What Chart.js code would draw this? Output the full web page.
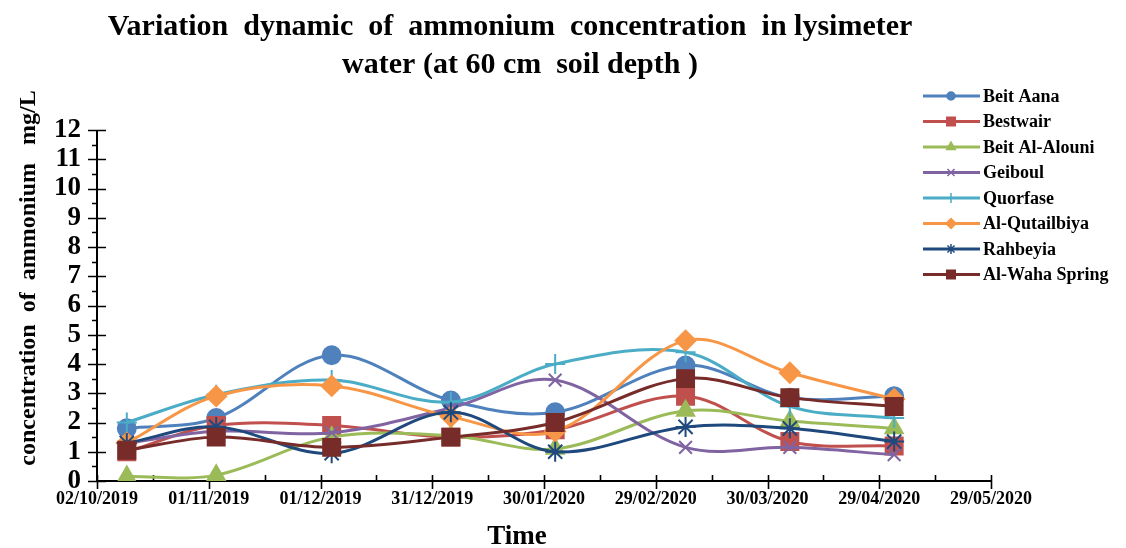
<!DOCTYPE html>
<html>
<head>
<meta charset="utf-8">
<script src="https://cdn.jsdelivr.net/npm/chart.js@4.4.0/dist/chart.umd.min.js"></script>
<style>
  html, body { margin: 0; padding: 0; background: #fff; }
  #wrap { width: 1126px; height: 548px; }
</style>
</head>
<body>
<div id="wrap"><canvas id="c"></canvas></div>
<script>
// ─── Data ─────────────────────────────────────────────────────────────────────
const START_DATE = '2019-10-02';
const sampleDates = ['2019-10-10', '2019-11-03', '2019-12-04', '2020-01-05', '2020-02-02', '2020-03-08', '2020-04-05', '2020-05-03'];
const tickLabels = ['02/10/2019', '01/11/2019', '01/12/2019', '31/12/2019', '30/01/2020', '29/02/2020', '30/03/2020', '29/04/2020', '29/05/2020'];

const seriesNames = ['Beit Aana', 'Bestwair', 'Beit Al-Alouni', 'Geiboul', 'Quorfase', 'Al-Qutailbiya', 'Rahbeyia', 'Al-Waha Spring'];
const beitAana     = [1.8, 2.15, 4.3, 2.75, 2.35, 3.95, 2.85, 2.9];
const bestwair     = [1.0, 1.9, 1.9, 1.5, 1.75, 2.9, 1.35, 1.2];
const beitAlAlouni = [0.15, 0.2, 1.5, 1.55, 1.1, 2.4, 2.05, 1.8];
const geiboul      = [1.3, 1.7, 1.65, 2.5, 3.45, 1.15, 1.15, 0.9];
const quorfase     = [2.0, 2.95, 3.45, 2.7, 4.0, 4.4, 2.55, 2.15];
const alQutailbiya = [1.3, 2.9, 3.25, 2.2, 1.7, 4.8, 3.7, 2.8];
const rahbeyia     = [1.3, 1.85, 0.95, 2.35, 1.0, 1.85, 1.8, 1.35];
const alWahaSpring = [1.05, 1.5, 1.15, 1.5, 2.0, 3.5, 2.85, 2.55];

const allSeries = [beitAana, bestwair, beitAlAlouni, geiboul, quorfase, alQutailbiya, rahbeyia, alWahaSpring];

// ─── Styles ───────────────────────────────────────────────────────────────────
const STYLES = [
  { color: '#4F81BD', point: 'circle',   radius: 9,  legendRadius: 4 },
  { color: '#C0504D', point: 'rect',     radius: 12, legendRadius: 6 },
  { color: '#9BBB59', point: 'triangle', radius: 10, legendRadius: 5 },
  { color: '#8064A2', point: 'crossRot', radius: 9,  legendRadius: 5 },
  { color: '#4BACC6', point: 'cross',    radius: 10, legendRadius: 5 },
  { color: '#F79646', point: 'rectRot',  radius: 10, legendRadius: 5 },
  { color: '#1F497D', point: 'star',     radius: 10, legendRadius: 5 },
  { color: '#772C2A', point: 'rect',     radius: 12, legendRadius: 6 }
];

const SERIF = "'Liberation Serif', 'DejaVu Serif', serif";
const DAY_MS = 86400000;

function dayOffset(d) {
  return (Date.parse(d) - Date.parse(START_DATE)) / DAY_MS;
}

const xDays = sampleDates.map(dayOffset);

const datasets = allSeries.map((vals, i) => ({
  label: seriesNames[i],
  data: vals.map((v, j) => ({ x: xDays[j], y: v })),
  borderColor: STYLES[i].color,
  backgroundColor: STYLES[i].color,
  pointBackgroundColor: STYLES[i].color,
  pointBorderColor: STYLES[i].color,
  pointStyle: STYLES[i].point,
  pointRadius: STYLES[i].radius,
  pointBorderWidth: 2,
  borderWidth: 3,
  tension: 0.35,
  fill: false,
  order: allSeries.length - i // last series on top, like Excel
}));

// ─── Decorations: title, axis lines + ticks, axis titles, legend ──────────────
const decorPlugin = {
  id: 'decor',
  beforeDatasetsDraw(chart) {
    const { ctx, chartArea: a, scales: { x, y } } = chart;
    ctx.save();
    ctx.strokeStyle = '#000';
    ctx.lineWidth = 2;
    ctx.beginPath();
    ctx.moveTo(a.left, a.top);
    ctx.lineTo(a.left, a.bottom);
    ctx.lineTo(a.right, a.bottom);
    ctx.stroke();

    ctx.lineWidth = 1.6;
    ctx.beginPath();
    y.ticks.forEach(t => {
      const py = Math.round(y.getPixelForValue(t.value)) + 0.5;
      const major = Number.isInteger(t.value);
      ctx.moveTo(a.left - (major ? 9 : 5), py);
      ctx.lineTo(a.left + (major ? 9 : 0), py);
    });
    x.ticks.forEach(t => {
      const px = Math.round(x.getPixelForValue(t.value)) + 0.5;
      const major = t.value % 30 === 0;
      ctx.moveTo(px, a.bottom - 6);
      ctx.lineTo(px, a.bottom + (major ? 8 : 0));
    });
    ctx.stroke();
    ctx.restore();
  },
  afterDraw(chart) {
    const { ctx } = chart;
    ctx.save();
    ctx.fillStyle = '#000';
    ctx.textAlign = 'center';
    ctx.textBaseline = 'middle';

    // main title
    ctx.font = `bold 30px ${SERIF}`;
    ctx.fillText('Variation  dynamic  of  ammonium  concentration  in lysimeter', 510, 27);
    ctx.fillText('water (at 60 cm  soil depth )', 520, 65);

    // axis titles
    ctx.font = `bold 27px ${SERIF}`;
    ctx.fillText('Time', 517, 537);
    ctx.save();
    ctx.translate(29, 278);
    ctx.rotate(-Math.PI / 2);
    ctx.font = `bold 24px ${SERIF}`;
    ctx.fillText('concentration  of  ammonium   mg/L', 0, 0);
    ctx.restore();

    // legend
    ctx.textAlign = 'left';
    ctx.font = `bold 18px ${SERIF}`;
    chart.data.datasets.forEach((ds, i) => {
      const ly = 96 + i * 25.5;
      const st = STYLES[i];
      ctx.strokeStyle = st.color;
      ctx.fillStyle = st.color;
      ctx.lineWidth = 3;
      ctx.beginPath();
      ctx.moveTo(923, ly);
      ctx.lineTo(980, ly);
      ctx.stroke();
      ctx.lineWidth = 1.5;
      Chart.helpers.drawPoint(ctx, { pointStyle: st.point, radius: st.legendRadius, rotation: 0, borderWidth: 1.5 }, 951, ly);
      ctx.fillStyle = '#000';
      ctx.fillText(ds.label, 983, ly + 1);
    });
    ctx.restore();
  }
};

// ─── Chart ────────────────────────────────────────────────────────────────────
const ctx = document.getElementById('c').getContext('2d');
new Chart(ctx, {
  type: 'line',
  data: { datasets },
  options: {
    responsive: true,
    maintainAspectRatio: false,
    animation: false,
    layout: { padding: { top: 130, right: 135, left: 10, bottom: 0 } },
    plugins: {
      legend: { display: false },
      title: { display: false },
      tooltip: { enabled: false }
    },
    scales: {
      x: {
        type: 'linear',
        min: 0,
        max: 240,
        grid: { display: false, drawTicks: false },
        border: { display: false },
        afterFit: s => { s.height = 67; },
        ticks: {
          stepSize: 15,
          autoSkip: false,
          maxRotation: 0,
          padding: 8,
          color: '#000',
          font: { family: SERIF, size: 18, weight: 'bold' },
          callback: v => (v % 30 === 0 ? tickLabels[v / 30] : '')
        }
      },
      y: {
        min: 0,
        max: 12,
        grid: { display: false, drawTicks: false },
        border: { display: false },
        afterFit: s => { s.width = 87; },
        ticks: {
          stepSize: 0.5,
          autoSkip: false,
          padding: 16,
          color: '#000',
          font: { family: SERIF, size: 27, weight: 'bold' },
          callback: v => (Number.isInteger(v) ? v : '')
        }
      }
    }
  },
  plugins: [decorPlugin]
});
</script>
</body>
</html>
